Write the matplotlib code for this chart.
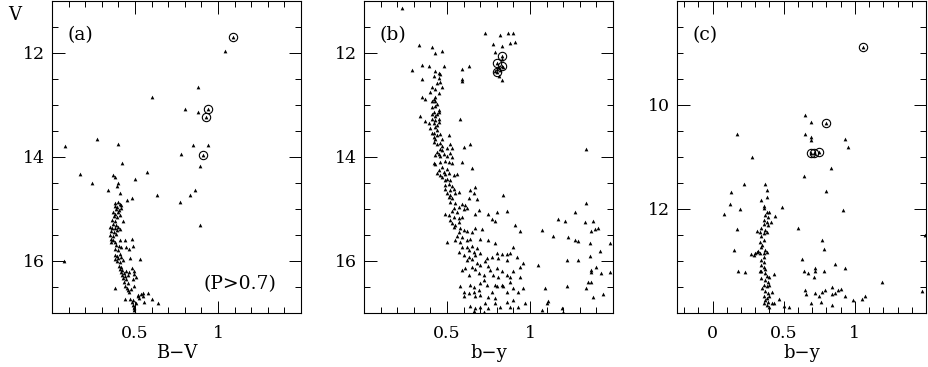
import matplotlib
matplotlib.use('Agg')
import matplotlib.pyplot as plt
from matplotlib.ticker import FixedLocator, MultipleLocator, FormatStrFormatter

plt.rcParams['font.family'] = ['DejaVu Serif']

# ---- panel (a): B-V vs V, P>0.7 ----
a_circled = [(1.09, 11.70), (0.94, 13.09), (0.93, 13.24), (0.91, 13.97)]
a_field = [(1.04, 11.96), (0.88, 12.67), (0.60, 12.86), (0.80, 13.08), (0.88, 13.15),
           (0.27, 13.65), (0.08, 13.80), (0.40, 13.75), (0.85, 13.78), (0.94, 13.77),
           (0.78, 13.94), (0.42, 14.12), (0.89, 14.17), (0.17, 14.33), (0.57, 14.30),
           (0.37, 14.35), (0.38, 14.38), (0.24, 14.51), (0.50, 14.42), (0.40, 14.50),
           (0.39, 14.56), (0.34, 14.63), (0.41, 14.69), (0.63, 14.73), (0.86, 14.63),
           (0.83, 14.74), (0.77, 14.86), (0.48, 14.80), (0.45, 14.83), (0.89, 15.31),
           (0.07, 16.00)]
a_ms = [(0.381, 14.88), (0.397, 14.86), (0.407, 14.90), (0.377, 14.94), (0.393, 14.96),
        (0.413, 14.93), (0.387, 15.00), (0.401, 15.02), (0.417, 14.99), (0.367, 15.06),
        (0.381, 15.09), (0.397, 15.07), (0.373, 15.14), (0.389, 15.16), (0.407, 15.12),
        (0.361, 15.22), (0.381, 15.23), (0.427, 15.23), (0.367, 15.29), (0.387, 15.31),
        (0.347, 15.34), (0.361, 15.37), (0.377, 15.36), (0.397, 15.34), (0.353, 15.42),
        (0.373, 15.44), (0.393, 15.41), (0.409, 15.39), (0.347, 15.50), (0.367, 15.52),
        (0.383, 15.49), (0.353, 15.58), (0.367, 15.60), (0.407, 15.59), (0.437, 15.60),
        (0.357, 15.63), (0.377, 15.64), (0.482, 15.57), (0.387, 15.69), (0.401, 15.71),
        (0.417, 15.73), (0.446, 15.74), (0.486, 15.71), (0.381, 15.77), (0.397, 15.79),
        (0.466, 15.78), (0.377, 15.89), (0.393, 15.90), (0.407, 15.87), (0.381, 15.96),
        (0.397, 15.95), (0.417, 15.93), (0.470, 15.95), (0.530, 15.96), (0.393, 16.01),
        (0.407, 16.03), (0.427, 15.99), (0.401, 16.09), (0.417, 16.11), (0.407, 16.15),
        (0.421, 16.17), (0.480, 16.14), (0.417, 16.22), (0.433, 16.24), (0.446, 16.20),
        (0.466, 16.22), (0.496, 16.19), (0.421, 16.27), (0.441, 16.29), (0.456, 16.27),
        (0.492, 16.25), (0.427, 16.33), (0.446, 16.35), (0.486, 16.35), (0.506, 16.31),
        (0.433, 16.40), (0.456, 16.42), (0.441, 16.49), (0.452, 16.52), (0.377, 16.52),
        (0.476, 16.54), (0.492, 16.49), (0.456, 16.56), (0.466, 16.59), (0.516, 16.65),
        (0.536, 16.63), (0.550, 16.61), (0.581, 16.61), (0.441, 16.73), (0.472, 16.73),
        (0.486, 16.75), (0.516, 16.68), (0.526, 16.72), (0.546, 16.67), (0.480, 16.78),
        (0.506, 16.80), (0.556, 16.78), (0.605, 16.73), (0.486, 16.84), (0.496, 16.88),
        (0.639, 16.81), (0.492, 16.91), (0.496, 16.95)]

# ---- panel (b): b-y vs V ----
b_circled = [(0.83, 12.07), (0.80, 12.20), (0.83, 12.25), (0.80, 12.37)]
b_giants = [(0.23, 11.14), (0.73, 11.63), (0.82, 11.66), (0.87, 11.63), (0.90, 11.62),
            (0.78, 11.84), (0.83, 11.88), (0.88, 11.82), (0.91, 11.80), (0.79, 11.99),
            (0.815, 12.28), (0.80, 12.31), (0.82, 12.34), (0.79, 12.35), (0.84, 12.28),
            (0.83, 12.52), (0.815, 12.44), (0.834, 12.12)]
b_upper = [(0.33, 11.86), (0.41, 11.89), (0.47, 11.97), (0.43, 12.01), (0.35, 12.23),
           (0.39, 12.26), (0.29, 12.33), (0.43, 12.35), (0.45, 12.39), (0.48, 12.26),
           (0.59, 12.31), (0.63, 12.26), (0.35, 12.51), (0.45, 12.48), (0.59, 12.51),
           (0.59, 12.55), (0.44, 12.58), (0.46, 12.56), (0.41, 12.67), (0.43, 12.69),
           (0.47, 12.67), (0.45, 12.78), (0.35, 12.85), (0.43, 12.85), (0.42, 12.90),
           (0.41, 12.93), (0.43, 12.93), (0.37, 12.90), (0.43, 13.03), (0.42, 13.14),
           (0.41, 13.17), (0.44, 13.17), (0.45, 13.14), (0.34, 13.22), (0.41, 13.27),
           (0.43, 13.30), (0.45, 13.27), (0.37, 13.31), (0.39, 13.36), (0.42, 13.36),
           (0.44, 13.39), (0.45, 13.33), (0.43, 13.43), (0.58, 13.28), (0.41, 13.55),
           (0.42, 13.54), (0.44, 13.59), (0.42, 13.62), (0.46, 13.57), (0.43, 13.65),
           (0.47, 13.65), (0.51, 13.59), (0.42, 13.71), (0.44, 13.75), (0.47, 13.80),
           (0.46, 13.73), (0.52, 13.76), (0.53, 13.84), (0.50, 13.84), (0.60, 13.81),
           (0.64, 13.75), (0.44, 13.91), (0.45, 13.94), (0.47, 13.87), (0.48, 13.95),
           (0.43, 13.97), (0.46, 13.99), (0.50, 13.99), (0.52, 13.92), (0.53, 14.00),
           (0.40, 13.45), (0.44, 13.48), (0.41, 13.05), (0.44, 12.98), (0.40, 12.75),
           (0.42, 12.45), (0.46, 12.42), (0.45, 13.10), (0.43, 13.22), (0.46, 13.85)]
b_lower = [(0.42, 14.12), (0.43, 14.14), (0.46, 14.10), (0.49, 14.08), (0.51, 14.10),
           (0.53, 14.12), (0.59, 14.10), (0.65, 14.22), (0.47, 14.19), (0.45, 14.26),
           (0.48, 14.29), (0.50, 14.24), (0.44, 14.32), (0.46, 14.35), (0.49, 14.33),
           (0.51, 14.32), (0.47, 14.38), (0.50, 14.42), (0.54, 14.35), (0.56, 14.33),
           (0.49, 14.45), (0.52, 14.44),
           (0.49, 14.54), (0.51, 14.52), (0.53, 14.56), (0.49, 14.61), (0.52, 14.64),
           (0.54, 14.61), (0.57, 14.67), (0.64, 14.64), (0.67, 14.59), (0.66, 14.70),
           (0.50, 14.70), (0.52, 14.74), (0.55, 14.70), (0.51, 14.77), (0.53, 14.80),
           (0.84, 14.74), (0.68, 14.82), (0.63, 14.80),
           (0.52, 14.86), (0.55, 14.88), (0.59, 14.90), (0.61, 14.93), (0.57, 14.96),
           (0.54, 14.99), (0.60, 15.01), (0.62, 14.99), (0.53, 15.05), (0.56, 15.07),
           (0.49, 15.10), (0.51, 15.12), (0.69, 15.02), (0.67, 15.09), (0.75, 15.10),
           (0.80, 15.07), (0.86, 15.05), (0.77, 15.20), (0.79, 15.23), (0.54, 15.16),
           (0.57, 15.18), (0.59, 15.15), (0.52, 15.21),
           (0.53, 15.28), (0.55, 15.31), (0.57, 15.25), (0.54, 15.34), (0.58, 15.37),
           (0.60, 15.41), (0.62, 15.42), (0.57, 15.44), (0.65, 15.44), (0.67, 15.36),
           (0.71, 15.39), (0.56, 15.52), (0.59, 15.55), (0.55, 15.60), (0.58, 15.63),
           (0.62, 15.60), (0.64, 15.57), (0.70, 15.57), (0.75, 15.59), (0.50, 15.63),
           (0.91, 15.31), (0.94, 15.42), (0.79, 15.66),
           (0.59, 15.73), (0.62, 15.74), (0.65, 15.71), (0.68, 15.76), (0.63, 15.79),
           (0.66, 15.82), (0.57, 15.82), (0.60, 15.89), (0.63, 15.92), (0.67, 15.89),
           (0.62, 15.98), (0.65, 15.97), (0.70, 15.85), (0.74, 15.95), (0.77, 15.92),
           (0.80, 15.84), (0.83, 15.87), (0.86, 15.87), (0.88, 15.84), (0.90, 15.73),
           (0.81, 15.95), (0.86, 15.98), (0.92, 15.92),
           (0.68, 16.04), (0.70, 16.08), (0.73, 16.01), (0.75, 16.10), (0.61, 16.14),
           (0.65, 16.11), (0.67, 16.16), (0.59, 16.17), (0.63, 16.27), (0.69, 16.24),
           (0.72, 16.27), (0.78, 16.27), (0.81, 16.30), (0.83, 16.20), (0.86, 16.27),
           (0.88, 16.30), (0.90, 16.20), (0.94, 16.11), (0.96, 16.04), (0.76, 16.17),
           (0.80, 16.14),
           (0.58, 16.48), (0.64, 16.46), (0.66, 16.50), (0.70, 16.43), (0.72, 16.36),
           (0.74, 16.46), (0.69, 16.56), (0.66, 16.59), (0.60, 16.59), (0.63, 16.62),
           (0.79, 16.46), (0.80, 16.48), (0.83, 16.46), (0.84, 16.48), (0.88, 16.41),
           (0.90, 16.52), (0.77, 16.59), (0.86, 16.59), (0.93, 16.59), (0.96, 16.52),
           (0.60, 16.68), (0.67, 16.68), (0.70, 16.65), (0.75, 16.70), (0.79, 16.72),
           (0.64, 16.86), (0.67, 16.91), (0.70, 16.88), (0.73, 16.81), (0.75, 16.91),
           (0.79, 16.81), (0.82, 16.88), (0.86, 16.78), (0.88, 16.88), (0.90, 16.75),
           (0.93, 16.88), (0.97, 16.81), (0.66, 16.97), (0.72, 16.99)]
b_red = [(1.34, 14.88), (1.27, 15.07), (1.17, 15.20), (1.21, 15.23), (1.33, 15.25),
         (1.38, 15.23), (1.07, 15.41), (1.37, 15.42), (1.39, 15.39), (1.41, 15.37),
         (1.14, 15.52), (1.23, 15.55), (1.27, 15.59), (1.29, 15.62), (1.36, 15.65),
         (1.48, 15.65), (1.42, 15.81), (1.05, 16.08), (1.22, 15.98), (1.29, 15.98),
         (1.36, 15.90), (1.40, 16.11), (1.37, 16.17), (1.37, 16.22), (1.43, 16.24),
         (1.48, 16.22), (0.94, 16.30), (1.09, 16.52), (1.22, 16.48), (1.34, 16.52),
         (1.35, 16.40), (1.37, 16.40), (1.44, 16.63), (1.38, 16.70), (1.11, 16.77),
         (1.10, 16.81), (1.19, 16.91), (1.07, 16.95), (1.20, 16.98), (1.34, 13.86)]

# ---- panel (c): b-y vs V ----
c_circled = [(1.06, 8.89), (0.80, 10.36), (0.69, 10.93), (0.71, 10.92), (0.75, 10.90)]
c_field = [(0.65, 10.20), (0.69, 10.34), (0.65, 10.57), (0.69, 10.63), (0.69, 10.68),
           (0.93, 10.66), (0.95, 10.82), (0.17, 10.57), (0.28, 11.01), (0.83, 11.21),
           (0.64, 11.36), (0.22, 11.52), (0.80, 11.65), (0.37, 11.53), (0.38, 11.63),
           (0.13, 11.67), (0.12, 11.90), (0.08, 12.09), (0.19, 12.01), (0.49, 11.97),
           (0.92, 12.03), (0.44, 12.14), (0.17, 12.39), (0.60, 12.36), (1.49, 12.50),
           (0.77, 12.60), (0.78, 12.78), (0.15, 12.79), (0.27, 12.87), (0.29, 12.89),
           (0.63, 12.97), (0.86, 13.06), (0.18, 13.19), (0.23, 13.22), (0.64, 13.19),
           (0.67, 13.24), (0.72, 13.14), (0.72, 13.19), (0.71, 13.30), (0.78, 13.19),
           (0.93, 13.14), (1.19, 13.41), (1.47, 13.57), (0.65, 13.56), (0.66, 13.63),
           (0.72, 13.62), (0.75, 13.68), (0.77, 13.59), (0.79, 13.56), (0.76, 13.78),
           (0.69, 13.81), (0.84, 13.63), (0.86, 13.62), (0.84, 13.50), (0.88, 13.56),
           (0.90, 13.54), (0.84, 13.84), (0.93, 13.68), (0.99, 13.75), (1.05, 13.73),
           (1.07, 13.67), (0.54, 13.89), (0.50, 13.86), (0.47, 13.73)]
c_ms = [(0.34, 11.83), (0.38, 11.77), (0.36, 11.95), (0.36, 11.99), (0.38, 12.06),
        (0.40, 12.07), (0.37, 12.12), (0.39, 12.15), (0.36, 12.21), (0.38, 12.25),
        (0.41, 12.25), (0.36, 12.29), (0.39, 12.31), (0.34, 12.37), (0.37, 12.41),
        (0.33, 12.44), (0.36, 12.47), (0.38, 12.44), (0.31, 12.43), (0.34, 12.53),
        (0.36, 12.60), (0.33, 12.63), (0.35, 12.69), (0.34, 12.74), (0.37, 12.79),
        (0.32, 12.81), (0.31, 12.82), (0.33, 12.84), (0.36, 12.85), (0.38, 12.82),
        (0.30, 12.85), (0.36, 12.93), (0.34, 12.98), (0.36, 13.03), (0.34, 13.08),
        (0.36, 13.12), (0.37, 13.16), (0.34, 13.19), (0.33, 13.20), (0.37, 13.24),
        (0.38, 13.29), (0.40, 13.31), (0.43, 13.25), (0.34, 13.33), (0.37, 13.36),
        (0.39, 13.40), (0.36, 13.46), (0.38, 13.49), (0.40, 13.46), (0.35, 13.52),
        (0.37, 13.57), (0.39, 13.61), (0.42, 13.59), (0.36, 13.68), (0.38, 13.72),
        (0.40, 13.67), (0.37, 13.75), (0.39, 13.78), (0.36, 13.81), (0.38, 13.84),
        (0.42, 13.81), (0.43, 13.80), (0.40, 13.88)]

panels = [
    dict(label='(a)', xlabel='B\u2212V', stars=a_field + a_ms, circ=a_circled,
         xlim=(0, 1.5), ylim=(17, 11), xt=[0.5, 1], yt=[12, 14, 16]),
    dict(label='(b)', xlabel='b\u2212y', stars=b_giants + b_upper + b_lower + b_red,
         circ=b_circled, xlim=(0, 1.5), ylim=(17, 11), xt=[0.5, 1], yt=[12, 14, 16]),
    dict(label='(c)', xlabel='b\u2212y', stars=c_field + c_ms, circ=c_circled,
         xlim=(-0.25, 1.5), ylim=(14, 8), xt=[0, 0.5, 1], yt=[10, 12]),
]
lefts = [52, 364, 677]

fig = plt.figure(figsize=(9.29, 3.67), dpi=100)
for p, left in zip(panels, lefts):
    ax = fig.add_axes([left / 929, 1 - 313 / 367, 249 / 929, 312.5 / 367])
    xs = [s[0] for s in p['stars']] + [s[0] for s in p['circ']]
    ys = [s[1] for s in p['stars']] + [s[1] for s in p['circ']]
    ax.plot(xs, ys, '^', ms=2.7, color='black', mew=0)
    ax.plot([s[0] for s in p['circ']], [s[1] for s in p['circ']], 'o', ms=6,
            mfc='none', mec='black', mew=0.8)
    ax.set_xlim(*p['xlim'])
    ax.set_ylim(*p['ylim'])
    ax.xaxis.set_major_locator(FixedLocator(p['xt']))
    ax.xaxis.set_minor_locator(MultipleLocator(0.1))
    ax.yaxis.set_major_locator(FixedLocator(p['yt']))
    ax.yaxis.set_minor_locator(MultipleLocator(0.5))
    ax.xaxis.set_major_formatter(FormatStrFormatter('%g'))
    ax.tick_params(which='both', direction='in', top=True, right=True,
                   width=0.7, labelsize=12.5)
    ax.tick_params(which='major', length=9)
    ax.tick_params(which='minor', length=4.3)
    ax.tick_params(axis='x', pad=8.5)
    ax.tick_params(axis='y', pad=5)
    for sp in ax.spines.values():
        sp.set_linewidth(0.8)
    ax.set_xlabel(p['xlabel'], fontsize=13, labelpad=1.5)
    ax.text(0.064, 0.888, p['label'], transform=ax.transAxes, fontsize=13.5,
            va='center', ha='left')
    if p['label'] == '(a)':
        ax.text(0.90, 0.093, '(P>0.7)', transform=ax.transAxes, fontsize=13.5,
                va='center', ha='right')

fig.text(0.0086, 0.959, 'V', fontsize=13, va='center', ha='left')
fig.savefig('out.png', dpi=100)
